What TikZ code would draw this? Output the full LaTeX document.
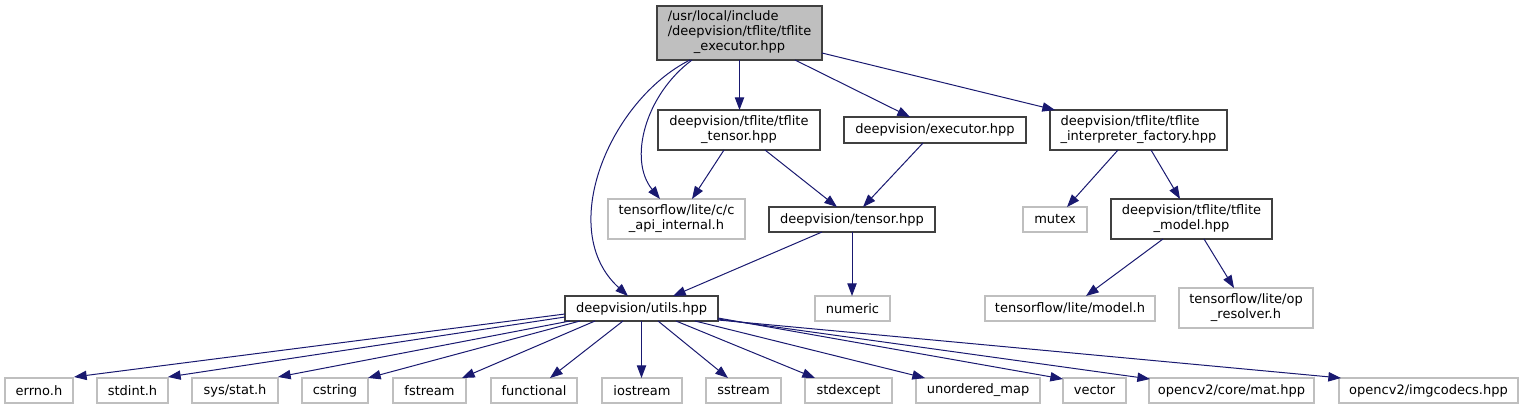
\documentclass[tikz,border=0pt]{standalone}
\usepackage{fontspec}
\setmainfont{DejaVu Sans}
\usetikzlibrary{arrows.meta}
\definecolor{edgeblue}{HTML}{191970}
\definecolor{docborder}{HTML}{404040}
\definecolor{undocborder}{HTML}{BFBFBF}
\definecolor{rootfill}{HTML}{BFBFBF}
\newcommand\twolbl[2]{\begin{tabular}{@{}l@{}}#1\\\multicolumn{1}{@{}c@{}}{#2}\end{tabular}}
\begin{document}
\begin{tikzpicture}[x=0.75pt,y=-0.75pt,
  every node/.style={font=\fontsize{9.75}{11.25}\selectfont, inner sep=0pt, outer sep=0pt},
  sz/.style 2 args={minimum width=#1*0.75pt, minimum height=#2*0.75pt},
  docbox/.style={draw=docborder, line width=0.9pt, fill=white, rectangle},
  undocbox/.style={draw=undocborder, line width=0.9pt, fill=white, rectangle},
  rootbox/.style={draw=docborder, line width=0.9pt, fill=rootfill, rectangle},
  edge/.style={draw=edgeblue, line width=0.75pt, -{Triangle[length=9.5pt,width=7pt]}}
]
\useasboundingbox (0,0) rectangle (1526,409);
\renewcommand\arraystretch{1}
% nodes
\node[rootbox, sz={165}{54}] (root) at (739.5,33) {\begin{tabular}{@{}l@{}}/usr/local/include\\/deepvision/tflite/tflite\\\multicolumn{1}{@{}c@{}}{\_executor.hpp}\end{tabular}};
\node[docbox, sz={162}{40}] (tftensor) at (739,130) {\twolbl{deepvision/tflite/tflite}{\_tensor.hpp}};
\node[docbox, sz={182}{26}] (executor) at (935,130) {deepvision/executor.hpp};
\node[docbox, sz={177}{40}] (interp) at (1138.5,130) {\twolbl{deepvision/tflite/tflite}{\_interpreter\_factory.hpp}};
\node[undocbox, sz={137}{40}] (capi) at (676.5,219) {\twolbl{tensorflow/lite/c/c}{\_api\_internal.h}};
\node[docbox, sz={166}{25}] (tensor) at (852,219.5) {deepvision/tensor.hpp};
\node[undocbox, sz={64}{25}] (mutex) at (1055,219.5) {mutex};
\node[docbox, sz={161}{40}] (tfmodel) at (1191.5,219) {\twolbl{deepvision/tflite/tflite}{\_model.hpp}};
\node[docbox, sz={153}{25}] (utils) at (641.5,308.5) {deepvision/utils.hpp};
\node[undocbox, sz={75}{25}] (numeric) at (852.5,308.5) {numeric};
\node[undocbox, sz={170}{25}] (modelh) at (1070,308.5) {tensorflow/lite/model.h};
\node[undocbox, sz={134}{40}] (opres) at (1246,308) {\twolbl{tensorflow/lite/op}{\_resolver.h}};
\node[undocbox, sz={68}{25}] (errno) at (39,390.5) {errno.h};
\node[undocbox, sz={71}{25}] (stdint) at (132.5,390.5) {stdint.h};
\node[undocbox, sz={86}{25}] (sysstat) at (235,390.5) {sys/stat.h};
\node[undocbox, sz={66}{25}] (cstring) at (335,390.5) {cstring};
\node[undocbox, sz={73}{25}] (fstream) at (429.5,390.5) {fstream};
\node[undocbox, sz={86}{25}] (functional) at (534,390.5) {functional};
\node[undocbox, sz={80}{25}] (iostream) at (642,390.5) {iostream};
\node[undocbox, sz={75}{25}] (sstream) at (743.5,390.5) {sstream};
\node[undocbox, sz={87}{25}] (stdexcept) at (848.5,390.5) {stdexcept};
\node[undocbox, sz={124}{25}] (umap) at (978,390.5) {unordered\_map};
\node[undocbox, sz={63}{25}] (vector) at (1094.5,390.5) {vector};
\node[undocbox, sz={165}{25}] (mat) at (1231.5,390.5) {opencv2/core/mat.hpp};
\node[undocbox, sz={179}{25}] (imgcodecs) at (1428.5,390.5) {opencv2/imgcodecs.hpp};
% edges from root
\draw[edge] (root.south) -- (root.south |- tftensor.north);
\draw[edge] ([shift={(138,0)}]root.south west) -- ([shift={(66,0)}]executor.north west);
\draw[edge] ([shift={(0,-7)}]root.south east) -- ([shift={(5,0)}]interp.north west);
\draw[edge] ([shift={(35,0)}]root.south west) .. controls (645,95) and (628,160) .. ([shift={(52,0)}]capi.north west);
\draw[edge] ([shift={(33,0)}]root.south west) .. controls (610,100) and (555,230) .. ([shift={(63,0)}]utils.north west);
% second level
\draw[edge] ([shift={(66,0)}]tftensor.south west) -- ([shift={(84,0)}]capi.north west);
\draw[edge] ([shift={(107,0)}]tftensor.south west) -- ([shift={(68,0)}]tensor.north west);
\draw[edge] ([shift={(79,0)}]executor.south west) -- ([shift={(94,0)}]tensor.north west);
\draw[edge] ([shift={(53,0)}]tensor.south west) -- ([shift={(108,0)}]utils.north west);
\draw[edge] (tensor.south) -- (tensor.south |- numeric.north);
\draw[edge] ([shift={(68,0)}]interp.south west) -- ([shift={(44,0)}]mutex.north west);
\draw[edge] ([shift={(101,0)}]interp.south west) -- ([shift={(69,0)}]tfmodel.north west);
\draw[edge] ([shift={(52,0)}]tfmodel.south west) -- ([shift={(101,0)}]modelh.north west);
\draw[edge] ([shift={(93,0)}]tfmodel.south west) -- ([shift={(55,0)}]opres.north west);
% utils fan-out
\draw[edge] ([shift={(0,-7)}]utils.south west) -- ([shift={(1,-1)}]errno.north east);
\draw[edge] ([shift={(0,-4)}]utils.south west) -- ([shift={(0,-1)}]stdint.north east);
\draw[edge] ([shift={(5,0)}]utils.south west) -- ([shift={(0,-1)}]sysstat.north east);
\draw[edge] ([shift={(15,0)}]utils.south west) -- ([shift={(0,0)}]cstring.north east);
\draw[edge] ([shift={(30,0)}]utils.south west) -- ([shift={(-4,0)}]fstream.north east);
\draw[edge] ([shift={(58,0)}]utils.south west) -- ([shift={(59,0)}]functional.north west);
\draw[edge] (utils.south) -- (utils.south |- iostream.north);
\draw[edge] ([shift={(93,0)}]utils.south west) -- ([shift={(22,0)}]sstream.north west);
\draw[edge] ([shift={(111,0)}]utils.south west) -- ([shift={(10,0)}]stdexcept.north west);
\draw[edge] ([shift={(130,0)}]utils.south west) -- ([shift={(9,0)}]umap.north west);
\draw[edge] ([shift={(0,-3)}]utils.south east) -- ([shift={(0,1)}]vector.north west);
\draw[edge] ([shift={(0,-2)}]utils.south east) -- ([shift={(1,1)}]mat.north west);
\draw[edge] ([shift={(0,-1)}]utils.south east) -- ([shift={(2,0)}]imgcodecs.north west);
\end{tikzpicture}
\end{document}
